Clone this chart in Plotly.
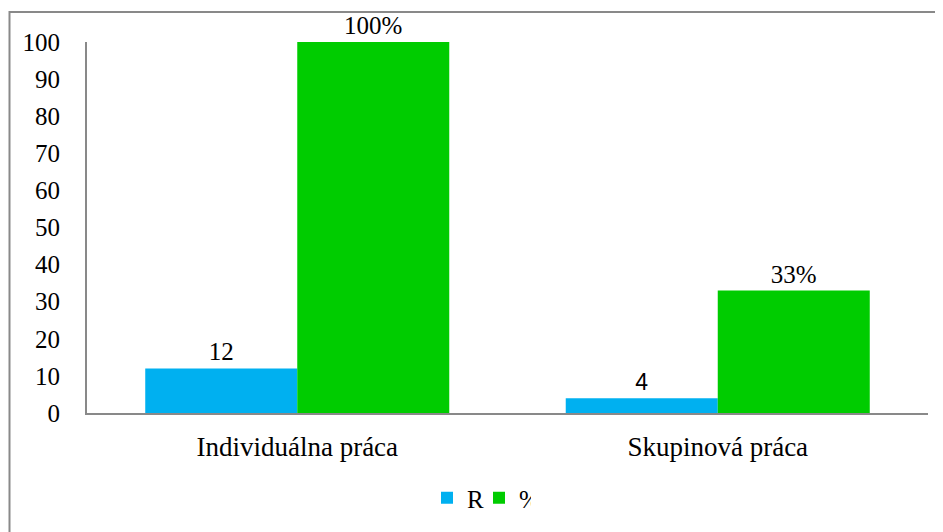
import plotly.graph_objects as go

categories = ["Individuálna práca", "Skupinová práca"]
r_values = [12, 4]
pct_values = [100, 33]
r_labels = ["12", "4"]
pct_labels = ["100%", "33%"]
y_ticks = [0, 10, 20, 30, 40, 50, 60, 70, 80, 90, 100]

serif = "Liberation Serif"
sans = "Liberation Sans"
FS = 25

# page has an 8px body margin; plot area in screen px: x 87..928, y 42..413
OFF = 8
L, R_EDGE, T, B = 87 - OFF, 928 - OFF, 42 - OFF, 413 - OFF
W, H = 943, 532

fig = go.Figure()
fig.add_trace(go.Bar(
    name="R", x=categories, y=r_values, text=r_labels,
    textposition="outside", marker_color="#00B0F0",
    marker_line_width=0,
    textfont=dict(family=[serif, sans], size=[FS, 23], color="#000000"),
    cliponaxis=False,
))
fig.add_trace(go.Bar(
    name="%", x=categories, y=pct_values, text=pct_labels,
    textposition="outside", marker_color="#00CC00",
    marker_line_width=0,
    textfont=dict(family=serif, size=FS, color="#000000"),
    cliponaxis=False,
))

ph = B - T
pw = R_EDGE - L
fig.update_layout(
    width=W, height=H,
    margin=dict(l=L, r=W - R_EDGE, t=T, b=H - B),
    paper_bgcolor="white", plot_bgcolor="white",
    barmode="group", bargap=0.277, bargroupgap=0,
    font=dict(family=serif, size=FS, color="#000000"),
    showlegend=True,
    legend=dict(orientation="h", x=(479 - 87) / pw, xanchor="center",
                y=(413 - 498) / ph, yanchor="middle",
                font=dict(family=serif, size=FS, color="#000000"), itemwidth=30,
                entrywidth=7, entrywidthmode="pixels",
                traceorder="normal"),
)
fig.update_yaxes(range=[0, 100], tickvals=y_ticks, showgrid=False, zeroline=False,
                 showline=True, linecolor="#898989", linewidth=2,
                 ticks="", ticklabelstandoff=20,
                 tickfont=dict(family=serif, size=FS, color="#000000"))
fig.update_xaxes(showgrid=False, showline=True, linecolor="#898989", linewidth=2,
                 ticks="", ticklabelstandoff=9,
                 tickfont=dict(family=serif, size=27, color="#000000"))

fig.add_shape(type="rect", xref="paper", yref="paper",
              x0=(1.5 - L) / pw, x1=1.2, y0=-0.6, y1=(413 - 12) / ph,
              line=dict(color="#898989", width=2), fillcolor="rgba(0,0,0,0)", layer="below")

fig.write_html("out.html")
